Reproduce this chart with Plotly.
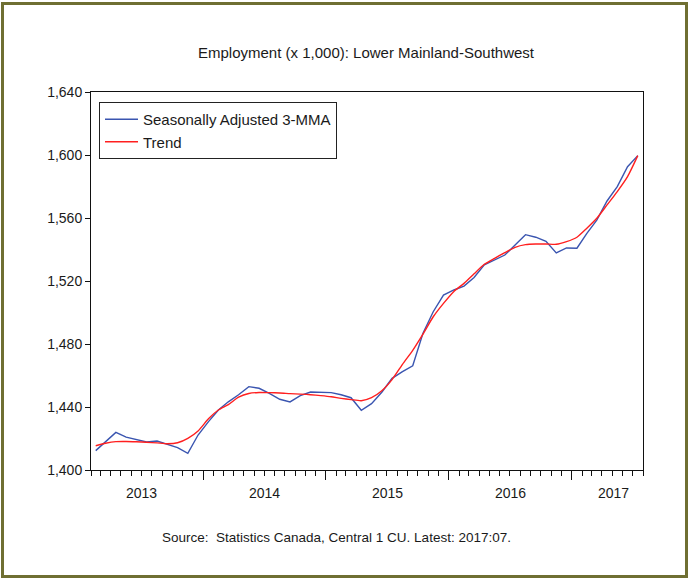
import pandas as pd
import plotly.graph_objects as go

# Monthly observations, 2013:02 .. 2017:07
months = pd.period_range("2013-02", "2017-07", freq="M")

sa_3mma = [
    1412.3, 1418.3, 1423.9, 1420.9, 1419.5, 1417.8, 1418.4, 1416.5, 1414.2, 1410.6,
    1422.2, 1430.7, 1438.1, 1443.3, 1447.8, 1452.9, 1451.9, 1448.7, 1444.9, 1443.2,
    1447.2, 1449.5, 1449.3, 1449.1, 1447.8, 1445.9, 1437.9, 1442.1, 1449.4, 1458.2,
    1462.4, 1466.2, 1486.8, 1500.5, 1511.1, 1514.3, 1516.8, 1522.2, 1530.2, 1533.3,
    1536.5, 1542.9, 1549.4, 1547.8, 1545.2, 1537.8, 1541.0, 1540.8, 1550.3, 1558.7,
    1570.8, 1579.9, 1592.6, 1599.6,
]

trend = [
    1415.4, 1417.0, 1418.0, 1418.1, 1417.9, 1417.6, 1417.2, 1416.7, 1417.3, 1420.1,
    1424.8, 1432.5, 1438.1, 1441.5, 1446.2, 1448.6, 1449.2, 1449.1, 1448.9, 1448.5,
    1448.2, 1447.8, 1447.2, 1446.5, 1445.5, 1444.7, 1444.0, 1445.9, 1450.3, 1457.4,
    1467.1, 1476.0, 1486.3, 1497.3, 1505.8, 1513.4, 1518.5, 1524.6, 1530.6, 1534.4,
    1538.0, 1541.4, 1543.1, 1543.5, 1543.5, 1543.3, 1545.0, 1547.8, 1553.5, 1559.8,
    1568.3, 1576.8, 1586.3, 1599.6,
]

y_ticks = [1400, 1440, 1480, 1520, 1560, 1600, 1640]
year_labels = ["2013", "2014", "2015", "2016", "2017"]
year_label_pos = ["2013-07-02", "2014-07-02", "2015-07-02", "2016-07-02", "2017-05-06"]
year_bounds = ["2014-01-01", "2015-01-01", "2016-01-01", "2017-01-01"]

starts = months.to_timestamp(how="start")
ends = (months + 1).to_timestamp(how="start")
x_mid = starts + (ends - starts) / 2

FONT = "Liberation Sans, Arial, sans-serif"
TXT = "#1a1a1a"

fig = go.Figure()
fig.add_trace(go.Scatter(x=x_mid, y=sa_3mma, mode="lines", name="Seasonally Adjusted 3-MMA",
                         line=dict(color="#3a55b0", width=1.4)))
fig.add_trace(go.Scatter(x=x_mid, y=trend, mode="lines", name="Trend",
                         line=dict(color="#ff1f1f", width=1.4, shape="spline", smoothing=0.6)))

L, R, T, B = 91, 46, 92, 109
W, H = 689, 579
pw, ph = W - L - R, H - T - B

def px_x(p):
    return (p - L) / pw

def px_y(p):
    return (H - B - p) / ph

annotations = [
    dict(text=lab, x=pos, xref="x", y=px_y(493), yref="paper", showarrow=False,
         xanchor="center", yanchor="middle", font=dict(size=14, color=TXT, family=FONT))
    for lab, pos in zip(year_labels, year_label_pos)
]
annotations.append(dict(text="Employment (x 1,000): Lower Mainland-Southwest",
                        x=px_x(366), xref="paper", y=px_y(53), yref="paper", showarrow=False,
                        xanchor="center", yanchor="middle",
                        font=dict(size=15, color=TXT, family=FONT)))
annotations.append(dict(text="Source:  Statistics Canada, Central 1 CU. Latest: 2017:07.",
                        x=px_x(336), xref="paper", y=px_y(537), yref="paper", showarrow=False,
                        xanchor="center", yanchor="middle",
                        font=dict(size=13.5, color=TXT, family=FONT)))

fig.update_layout(
    width=W, height=H,
    margin=dict(l=L, r=R, t=T, b=B, pad=0),
    paper_bgcolor="white", plot_bgcolor="white",
    font=dict(family=FONT, size=14, color=TXT),
    showlegend=True,
    legend=dict(x=px_x(99), y=px_y(102), xanchor="left", yanchor="top",
                bordercolor="#222222", borderwidth=1, bgcolor="white",
                font=dict(size=15, family=FONT, color=TXT),
                tracegroupgap=0, itemwidth=33),
    annotations=annotations,
    shapes=[dict(type="rect", xref="paper", yref="paper",
                 x0=px_x(2.5), x1=px_x(686.5), y0=px_y(576.5), y1=px_y(3.5),
                 line=dict(color="#6f6f32", width=3), fillcolor="rgba(0,0,0,0)")],
    xaxis=dict(type="date", range=["2013-02-01", "2017-08-01"],
               showgrid=False, zeroline=False,
               showline=True, linecolor="#111111", linewidth=1, mirror=True,
               tickmode="array", tickvals=year_bounds, ticktext=["", "", "", ""],
               ticks="outside", ticklen=9, tickcolor="#111111", tickwidth=1,
               minor=dict(dtick="M1", tick0="2013-01-01", ticks="outside", ticklen=5,
                          tickcolor="#111111", tickwidth=1, showgrid=False)),
    yaxis=dict(range=[1400, 1640], showgrid=False, zeroline=False,
               showline=True, linecolor="#111111", linewidth=1, mirror=True,
               tickmode="array", tickvals=y_ticks, tickformat=",",
               ticks="outside", ticklen=5, tickcolor="#111111", tickwidth=1,
               tickfont=dict(size=14, family=FONT, color=TXT)),
)

fig.write_html("out.html", config={"displayModeBar": False},
               post_script="document.body.style.margin='0';document.body.style.padding='0';")
